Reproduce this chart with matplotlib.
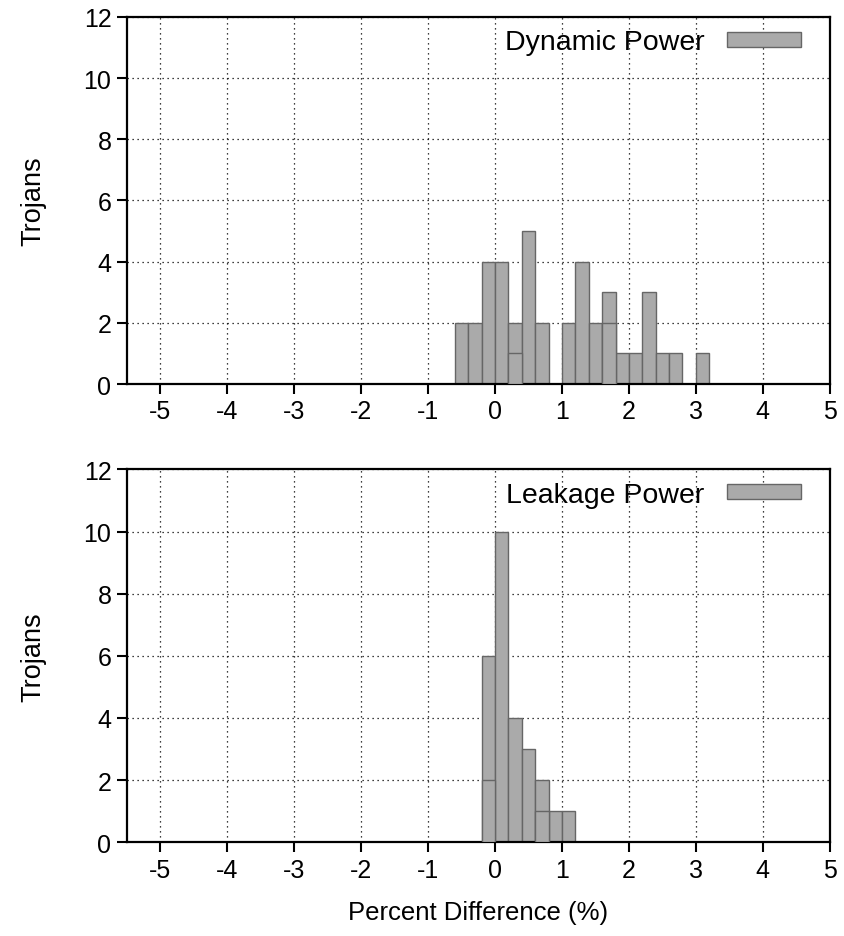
import matplotlib.pyplot as plt
from matplotlib.ticker import MultipleLocator

plt.rcParams['font.family'] = ['Liberation Sans', 'DejaVu Sans']
plt.rcParams['font.size'] = 18

BAR_W = 0.2
FILL = '#aaaaaa'
EDGE = '#666666'

# dynamic power histogram (bin centers, counts)
dyn_x = [-0.5, -0.3, -0.1, 0.1, 0.3, 0.5, 0.7,
         1.1, 1.3, 1.5, 1.7, 1.9, 2.1, 2.3, 2.5, 2.7, 3.1]
dyn_n = [2, 2, 4, 4, 2, 5, 2,
         2, 4, 2, 3, 1, 1, 3, 1, 1, 1]
# boxes drawn a second time on top (gnuplot overlap)
dyn_over_x = [0.3, 1.7]
dyn_over_n = [1, 2]

# leakage power histogram
leak_x = [-0.1, 0.1, 0.3, 0.5, 0.7, 0.9, 1.1]
leak_n = [6, 10, 4, 3, 2, 1, 1]
leak_over_x = [-0.1, 0.7]
leak_over_n = [2, 1]

xticks = [-5, -4, -3, -2, -1, 0, 1, 2, 3, 4, 5]


def draw_panel(ax, x, n, ox, on, label):
    ax.bar(x, n, width=BAR_W, color=FILL, edgecolor=EDGE, linewidth=1.0,
           label=label, zorder=2)
    ax.bar(ox, on, width=BAR_W, color=FILL, edgecolor=EDGE, linewidth=1.0,
           zorder=3)
    ax.set_xlim(-5.5, 5)
    ax.set_ylim(0, 12)
    ax.set_xticks(xticks)
    ax.set_xticklabels([str(t) for t in xticks])
    ax.yaxis.set_major_locator(MultipleLocator(2))
    ax.grid(True, linestyle=(0, (1, 3)), color='black', linewidth=0.9, zorder=0)
    ax.set_axisbelow(True)
    ax.tick_params(direction='out', length=7, width=1.5, top=False, right=False, pad=4)
    for s in ax.spines.values():
        s.set_linewidth(1.6)
    ax.set_ylabel('Trojans', fontsize=19.5, labelpad=27)
    ax.legend(loc='upper right', bbox_to_anchor=(1.0, 1.043), frameon=False,
              fontsize=20.5, markerfirst=False, handlelength=2.6,
              handleheight=0.46, handletextpad=0.8, borderaxespad=0.6)


fig = plt.figure(figsize=(8.45, 9.37), dpi=100)
ax1 = fig.add_axes([0.150, 0.589, 0.832, 0.392])
ax2 = fig.add_axes([0.150, 0.100, 0.832, 0.398])

draw_panel(ax1, dyn_x, dyn_n, dyn_over_x, dyn_over_n, 'Dynamic Power')
draw_panel(ax2, leak_x, leak_n, leak_over_x, leak_over_n, 'Leakage Power')
ax2.set_xlabel('Percent Difference (%)', fontsize=18.5, labelpad=13)

fig.savefig('out.png', dpi=100)
